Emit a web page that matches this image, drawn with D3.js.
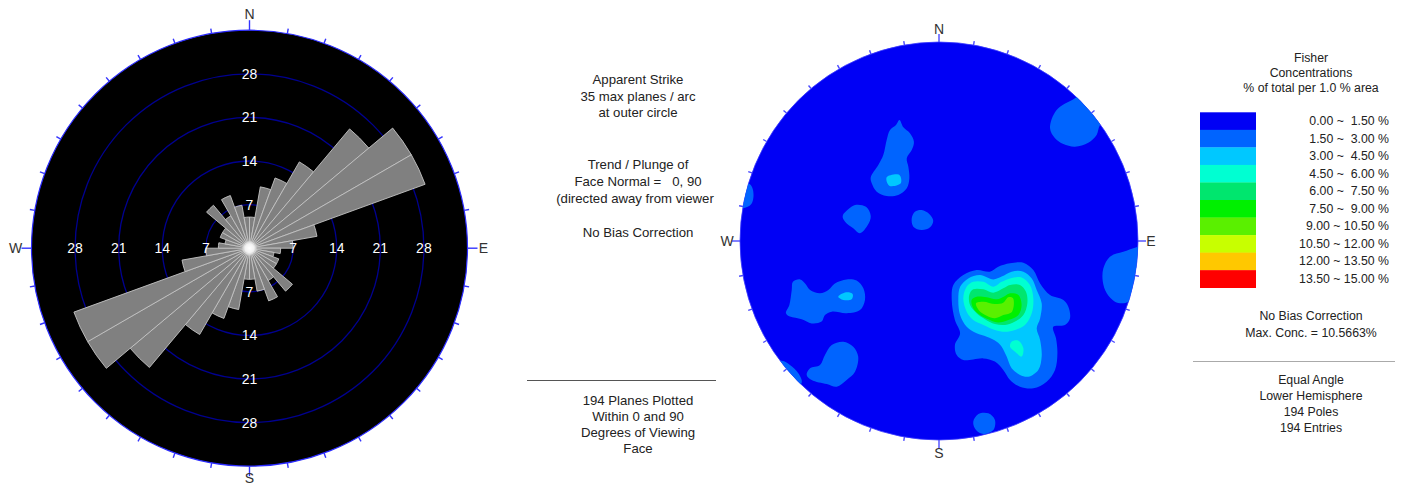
<!DOCTYPE html>
<html>
<head>
<meta charset="utf-8">
<script src="https://cdn.jsdelivr.net/npm/d3@7"></script>
<style>
  html, body { margin: 0; padding: 0; background: #fff; }
  svg { display: block; }
  text { font-family: "Liberation Sans", Arial, sans-serif; }
</style>
</head>
<body>
<svg id="chart" width="1403" height="485"></svg>
<script>
// ---- Rose diagram: apparent strike, 10 degree bins (bidirectional) ----
const binStart = [0, 10, 20, 30, 40, 50, 60, 70, 80, 90, 100, 110, 120, 130, 140, 150, 160, 170];
const strikeCounts = [5, 10, 12, 16, 25, 30, 30, 11, 7, 5, 4, 5, 5, 9, 6, 9, 7, 5];
const ringValues = [7, 14, 21, 28];
const roseMax = 35;

// ---- Stereonet: Fisher concentration legend ----
const concRanges = ["0.00 ~  1.50 %", "1.50 ~  3.00 %", "3.00 ~  4.50 %", "4.50 ~  6.00 %", "6.00 ~  7.50 %",
                    "7.50 ~  9.00 %", "9.00 ~ 10.50 %", "10.50 ~ 12.00 %", "12.00 ~ 13.50 %", "13.50 ~ 15.00 %"];
const concColors = ["#0000f5", "#0064ff", "#00c8ff", "#00ffd2", "#00e66e", "#00f000", "#5af000", "#c8ff00", "#ffc800", "#ff0000"];

// Contour outlines in projection units (x east, y north, unit primitive circle); level = band index
const contours = [
  { level: 1, pts: [[0.683,0.717],[0.591,0.658],[0.558,0.566],[0.583,0.516],[0.625,0.487],[0.683,0.474],[0.750,0.494],[0.792,0.533],[0.809,0.583],[0.86,0.63],[0.76,0.77]] },
  { level: 1, pts: [[0.926,-0.054],[0.859,-0.079],[0.826,-0.137],[0.823,-0.204],[0.843,-0.263],[0.884,-0.305],[0.926,-0.313],[0.968,-0.296],[1.06,-0.2],[1.04,-0.03]] },
  { level: 1, pts: [[-0.199,0.608],[-0.179,0.571],[-0.146,0.541],[-0.126,0.499],[-0.137,0.457],[-0.162,0.416],[-0.154,0.373],[-0.149,0.315],[-0.162,0.265],[-0.205,0.231],[-0.263,0.226],[-0.313,0.248],[-0.338,0.290],[-0.343,0.320],[-0.305,0.382],[-0.280,0.432],[-0.263,0.508],[-0.246,0.558],[-0.216,0.583]] },
  { level: 2, pts: [[-0.263,0.320],[-0.199,0.332],[-0.192,0.290],[-0.250,0.278]] },
  { level: 1, pts: [[-0.422,0.181],[-0.367,0.172],[-0.343,0.126],[-0.358,0.080],[-0.397,0.039],[-0.431,0.064],[-0.472,0.097],[-0.484,0.126],[-0.456,0.159]] },
  { level: 1, pts: [[-0.087,0.156],[-0.049,0.136],[-0.029,0.102],[-0.045,0.069],[-0.087,0.055],[-0.129,0.072],[-0.137,0.114],[-0.121,0.147]] },
  { level: 1, pts: [[-0.950,0.285],[-0.932,0.231],[-0.950,0.178],[-1.06,0.17],[-1.06,0.3]] },
  { level: 1, pts: [[-0.698,-0.193],[-0.673,-0.213],[-0.648,-0.246],[-0.598,-0.263],[-0.556,-0.246],[-0.523,-0.213],[-0.464,-0.193],[-0.414,-0.199],[-0.380,-0.238],[-0.372,-0.296],[-0.397,-0.347],[-0.464,-0.363],[-0.539,-0.355],[-0.573,-0.372],[-0.590,-0.405],[-0.640,-0.414],[-0.690,-0.393],[-0.749,-0.380],[-0.769,-0.363],[-0.752,-0.322],[-0.740,-0.246],[-0.734,-0.205]] },
  { level: 2, pts: [[-0.506,-0.280],[-0.467,-0.258],[-0.434,-0.266],[-0.439,-0.293],[-0.481,-0.296]] },
  { level: 1, pts: [[-0.481,-0.506],[-0.431,-0.531],[-0.406,-0.581],[-0.422,-0.657],[-0.464,-0.698],[-0.514,-0.732],[-0.564,-0.719],[-0.640,-0.698],[-0.665,-0.673],[-0.648,-0.640],[-0.598,-0.623],[-0.573,-0.573],[-0.539,-0.523]] },
  { level: 1, pts: [[-0.790,-0.602],[-0.749,-0.623],[-0.707,-0.665],[-0.690,-0.712],[-0.76,-0.76],[-0.86,-0.62]] },
  { level: 1, pts: [[0.198,-0.869],[0.248,-0.866],[0.281,-0.899],[0.273,-0.950],[0.223,-0.970],[0.186,-0.950],[0.172,-0.908]] },
  { level: 1, pts: [[0.357,-0.112],[0.424,-0.109],[0.474,-0.146],[0.508,-0.213],[0.558,-0.271],[0.625,-0.296],[0.650,-0.330],[0.658,-0.389],[0.633,-0.422],[0.574,-0.431],[0.588,-0.489],[0.595,-0.564],[0.583,-0.648],[0.541,-0.707],[0.474,-0.740],[0.407,-0.732],[0.357,-0.698],[0.323,-0.648],[0.281,-0.606],[0.223,-0.590],[0.172,-0.595],[0.122,-0.598],[0.089,-0.573],[0.080,-0.523],[0.106,-0.464],[0.080,-0.397],[0.064,-0.296],[0.072,-0.221],[0.122,-0.171],[0.189,-0.146],[0.256,-0.154],[0.298,-0.129]] },
  { level: 2, pts: [[0.365,-0.154],[0.424,-0.154],[0.466,-0.188],[0.491,-0.246],[0.516,-0.313],[0.508,-0.389],[0.491,-0.439],[0.508,-0.497],[0.516,-0.581],[0.499,-0.648],[0.449,-0.682],[0.407,-0.673],[0.365,-0.640],[0.340,-0.581],[0.315,-0.531],[0.290,-0.506],[0.240,-0.481],[0.189,-0.464],[0.139,-0.431],[0.106,-0.372],[0.097,-0.296],[0.106,-0.230],[0.147,-0.188],[0.206,-0.171],[0.273,-0.193],[0.315,-0.179]] },
  { level: 3, pts: [[0.357,-0.188],[0.415,-0.183],[0.457,-0.221],[0.474,-0.288],[0.466,-0.363],[0.432,-0.422],[0.382,-0.447],[0.332,-0.456],[0.281,-0.447],[0.223,-0.422],[0.172,-0.397],[0.139,-0.355],[0.122,-0.288],[0.139,-0.230],[0.172,-0.205],[0.223,-0.205],[0.273,-0.230],[0.315,-0.205]] },
  { level: 3, pts: [[0.365,-0.506],[0.399,-0.501],[0.424,-0.539],[0.415,-0.581],[0.382,-0.556],[0.357,-0.531]] },
  { level: 4, pts: [[0.357,-0.221],[0.407,-0.221],[0.437,-0.255],[0.444,-0.313],[0.424,-0.372],[0.382,-0.405],[0.332,-0.422],[0.281,-0.417],[0.231,-0.393],[0.189,-0.363],[0.156,-0.322],[0.152,-0.271],[0.172,-0.243],[0.223,-0.243],[0.273,-0.260],[0.323,-0.238]] },
  { level: 5, pts: [[0.357,-0.263],[0.399,-0.271],[0.415,-0.322],[0.399,-0.372],[0.348,-0.397],[0.298,-0.410],[0.256,-0.397],[0.206,-0.372],[0.172,-0.338],[0.164,-0.296],[0.189,-0.280],[0.240,-0.283],[0.290,-0.293],[0.332,-0.276]] },
  { level: 6, pts: [[0.348,-0.283],[0.372,-0.288],[0.367,-0.355],[0.323,-0.372],[0.281,-0.388],[0.240,-0.375],[0.202,-0.350],[0.186,-0.313],[0.223,-0.305],[0.281,-0.317],[0.323,-0.310]] }
];

const svg = d3.select("#chart");
svg.append("rect").attr("width", 1403).attr("height", 485).attr("fill", "#fff");
const defs = svg.append("defs");

// ================= Rose diagram =================
const rose = { cx: 249.5, cy: 248.2 };
const rScale = d3.scaleLinear().domain([0, roseMax]).range([0, 218]);
const R1 = rScale(roseMax);
const gRose = svg.append("g").attr("transform", `translate(${rose.cx},${rose.cy})`);

gRose.append("circle").attr("r", R1).attr("fill", "#000").attr("stroke", "#2a2aff").attr("stroke-width", 1.2);

gRose.selectAll("circle.ring").data(ringValues).join("circle")
  .attr("class", "ring").attr("r", d => rScale(d))
  .attr("fill", "none").attr("stroke", "#000090").attr("stroke-width", 1.3);

const toRad = d => d * Math.PI / 180;
const petalArc = d3.arc().innerRadius(0);
const petals = [];
binStart.forEach((b, i) => {
  petals.push({ a0: b, v: strikeCounts[i] });
  petals.push({ a0: b + 180, v: strikeCounts[i] });
});
gRose.selectAll("path.petal").data(petals).join("path")
  .attr("class", "petal")
  .attr("d", d => petalArc({ startAngle: toRad(d.a0), endAngle: toRad(d.a0 + 10), outerRadius: rScale(d.v) }))
  .attr("fill", "#808080").attr("stroke", "#c4c4c4").attr("stroke-width", 0.9).attr("stroke-linejoin", "miter");

// bright hub where petal edges converge
const hubGrad = defs.append("radialGradient").attr("id", "hub");
hubGrad.append("stop").attr("offset", "0%").attr("stop-color", "#fff").attr("stop-opacity", 1);
hubGrad.append("stop").attr("offset", "55%").attr("stop-color", "#fff").attr("stop-opacity", 0.8);
hubGrad.append("stop").attr("offset", "100%").attr("stop-color", "#fff").attr("stop-opacity", 0);
gRose.append("circle").attr("r", 8).attr("fill", "url(#hub)");

// ring labels along the four axes
const ringLabels = [];
ringValues.forEach(v => {
  [[0, -1], [1, 0], [0, 1], [-1, 0]].forEach(([dx, dy]) => ringLabels.push({ v, dx, dy }));
});
gRose.selectAll("text.rl").data(ringLabels).join("text")
  .attr("class", "rl")
  .attr("x", d => d.dx * rScale(d.v)).attr("y", d => d.dy * rScale(d.v))
  .attr("text-anchor", "middle").attr("dominant-baseline", "central")
  .attr("font-size", 14).attr("fill", "#fff").text(d => d.v);

function compassTicks(g, R, longLen, shortLen, labelOff, color, southOff) {
  const az = d3.range(0, 360, 10);
  g.selectAll("line.tick").data(az).join("line")
    .attr("class", "tick")
    .attr("x1", d => Math.sin(toRad(d)) * R).attr("y1", d => -Math.cos(toRad(d)) * R)
    .attr("x2", d => Math.sin(toRad(d)) * (R + (d % 90 === 0 ? longLen : shortLen)))
    .attr("y2", d => -Math.cos(toRad(d)) * (R + (d % 90 === 0 ? longLen : shortLen)))
    .attr("stroke", color).attr("stroke-width", 1.4);
  const cards = [["N", 0], ["E", 90], ["S", 180], ["W", 270]];
  g.selectAll("text.card").data(cards).join("text")
    .attr("class", "card")
    .attr("x", d => Math.sin(toRad(d[1])) * (R + labelOff))
    .attr("y", d => -Math.cos(toRad(d[1])) * (R + (d[0] === "S" ? southOff : labelOff)))
    .attr("text-anchor", "middle").attr("dominant-baseline", "central")
    .attr("font-size", 14).attr("fill", "#333").text(d => d[0]);
}
compassTicks(gRose, R1, 10, 5, 16, "#3434ff", 12);

// ================= Middle notes =================
const midX = 638;
const midLines = [
  ["Apparent Strike", 79], ["35 max planes / arc", 96], ["at outer circle", 112],
  ["Trend / Plunge of", 164], ["Face Normal =   0, 90", 181], ["(directed away from viewer", 198],
  ["No Bias Correction", 232],
  ["194 Planes Plotted", 400], ["Within 0 and 90", 416], ["Degrees of Viewing", 432], ["Face", 448]
];
svg.append("g").selectAll("text").data(midLines).join("text")
  .attr("x", d => d[0].startsWith("(") ? 635 : midX).attr("y", d => d[1])
  .attr("text-anchor", "middle").attr("dominant-baseline", "central")
  .attr("font-size", 13.2).attr("fill", "#222").style("white-space", "pre").text(d => d[0]);
svg.append("line").attr("x1", 527).attr("x2", 716).attr("y1", 380.5).attr("y2", 380.5)
  .attr("stroke", "#555").attr("stroke-width", 1);

// ================= Stereonet =================
const net = { cx: 939, cy: 241, R: 199 };
const sx = d3.scaleLinear().domain([-1, 1]).range([net.cx - net.R, net.cx + net.R]);
const sy = d3.scaleLinear().domain([-1, 1]).range([net.cy + net.R, net.cy - net.R]);

defs.append("clipPath").attr("id", "netClip")
  .append("circle").attr("cx", net.cx).attr("cy", net.cy).attr("r", net.R);

svg.append("circle").attr("cx", net.cx).attr("cy", net.cy).attr("r", net.R)
  .attr("fill", concColors[0]).attr("stroke", "#3a3aff").attr("stroke-width", 0.8);

const contourLine = d3.line().x(d => sx(d[0])).y(d => sy(d[1])).curve(d3.curveCatmullRomClosed.alpha(0.5));
const gCont = svg.append("g").attr("clip-path", "url(#netClip)");
gCont.selectAll("path").data(contours.slice().sort((a, b) => a.level - b.level)).join("path")
  .attr("d", d => contourLine(d.pts))
  .attr("fill", d => concColors[d.level]);

const gNet = svg.append("g").attr("transform", `translate(${net.cx},${net.cy})`);
compassTicks(gNet, net.R, 8, 4, 13, "#4a4aff", 13);

// ================= Legend =================
const legX = 1200, legY = 112.3, legW = 56, bandH = 17.54;
const gLeg = svg.append("g");
gLeg.selectAll("rect").data(concColors).join("rect")
  .attr("x", legX).attr("y", (d, i) => legY + i * bandH)
  .attr("width", legW).attr("height", bandH + 0.3).attr("fill", d => d);
gLeg.selectAll("text.rng").data(concRanges).join("text")
  .attr("class", "rng")
  .attr("x", 1389).attr("y", (d, i) => legY + (i + 0.5) * bandH)
  .attr("text-anchor", "end").attr("dominant-baseline", "central")
  .attr("font-size", 12.3).attr("fill", "#222").style("white-space", "pre").text(d => d);

const rightLines = [
  ["Fisher", 58], ["Concentrations", 73], ["% of total per 1.0 % area", 88],
  ["No Bias Correction", 316], ["Max. Conc. = 10.5663%", 333],
  ["Equal Angle", 380], ["Lower Hemisphere", 396], ["194 Poles", 412], ["194 Entries", 428]
];
svg.append("g").selectAll("text").data(rightLines).join("text")
  .attr("x", 1311).attr("y", d => d[1])
  .attr("text-anchor", "middle").attr("dominant-baseline", "central")
  .attr("font-size", 12.3).attr("fill", "#222").text(d => d[0]);
svg.append("line").attr("x1", 1193).attr("x2", 1395).attr("y1", 361.5).attr("y2", 361.5)
  .attr("stroke", "#aaa").attr("stroke-width", 1);
</script>
</body>
</html>
